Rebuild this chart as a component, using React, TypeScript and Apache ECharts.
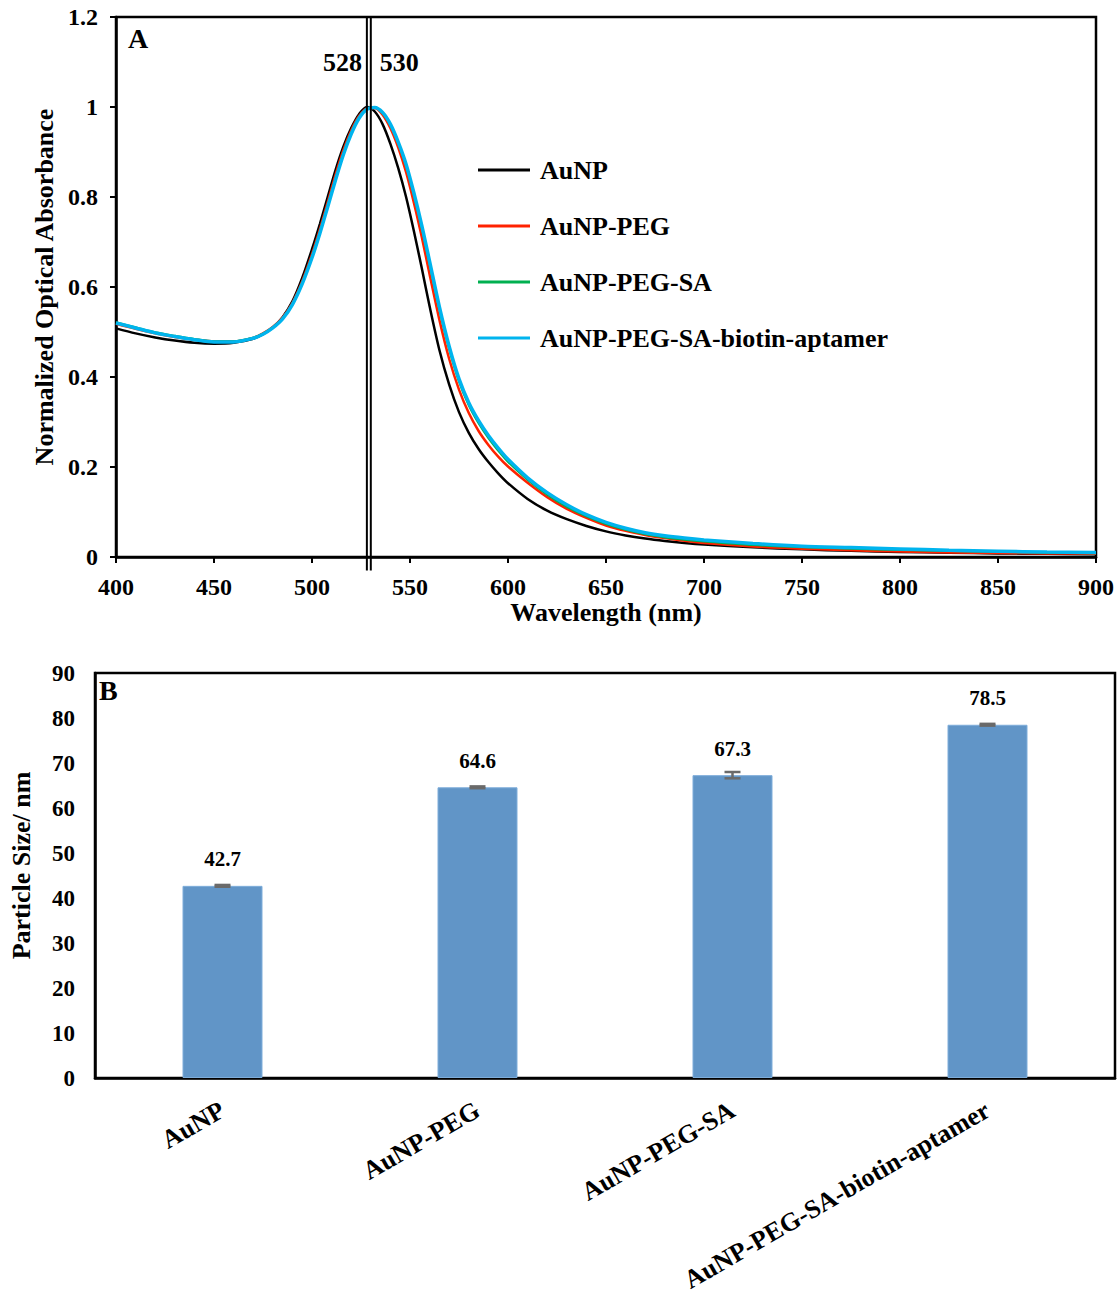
import React, { useEffect, useRef } from "react";
import * as echarts from "echarts";

const FONT = '"Liberation Serif", "Times New Roman", serif';

// Panel A: normalized UV-Vis spectra (wavelength in nm)
const wavelengths = [
  400, 410, 420, 430, 440, 450, 460, 470, 475, 480, 485, 490, 495, 500,
  504, 508, 512, 516, 520, 524, 528, 532, 536, 540, 544, 548, 552, 556, 560,
  565, 570, 575, 580, 585, 590, 595, 600,
  610, 620, 630, 640, 650, 660, 670, 680, 690, 700,
  725, 750, 775, 800, 825, 850, 875, 900,
];
const absAuNP = [
  0.508, 0.497, 0.488, 0.481, 0.476, 0.474, 0.476, 0.485, 0.495, 0.51, 0.533, 0.568, 0.62, 0.684,
  0.74, 0.8, 0.86, 0.912, 0.953, 0.984, 1.0, 0.99, 0.962, 0.918, 0.864, 0.8, 0.724, 0.642, 0.557,
  0.46, 0.383, 0.322, 0.276, 0.24, 0.211, 0.186, 0.164,
  0.129, 0.103, 0.084, 0.069, 0.057, 0.048, 0.041, 0.0355, 0.031, 0.0275,
  0.0215, 0.017, 0.0137, 0.0113, 0.0095, 0.008, 0.007, 0.006,
];
const absPEG = [
  0.518, 0.507, 0.497, 0.489, 0.483, 0.479, 0.479, 0.487, 0.497, 0.511, 0.532, 0.565, 0.613, 0.673,
  0.728, 0.788, 0.849, 0.904, 0.948, 0.98, 0.997, 0.998, 0.983, 0.953, 0.91, 0.855, 0.787, 0.711, 0.628,
  0.527, 0.44, 0.372, 0.32, 0.28, 0.249, 0.223, 0.201,
  0.165, 0.133, 0.107, 0.087, 0.07, 0.058, 0.049, 0.042, 0.036, 0.031,
  0.0235, 0.0185, 0.015, 0.012, 0.01, 0.009, 0.008, 0.007,
];
const absPEGSA = [
  0.521, 0.51, 0.499, 0.491, 0.484, 0.479, 0.479, 0.487, 0.496, 0.51, 0.53, 0.562, 0.609, 0.667,
  0.721, 0.78, 0.84, 0.896, 0.942, 0.976, 0.996, 0.999, 0.987, 0.96, 0.92, 0.87, 0.805, 0.733, 0.652,
  0.551, 0.463, 0.391, 0.338, 0.298, 0.265, 0.237, 0.212,
  0.172, 0.139, 0.112, 0.091, 0.074, 0.061, 0.051, 0.044, 0.039, 0.035,
  0.027, 0.022, 0.019, 0.016, 0.014, 0.012, 0.01, 0.009,
];
const absAptamer = [
  0.52, 0.509, 0.498, 0.49, 0.483, 0.478, 0.478, 0.486, 0.495, 0.509, 0.529, 0.561, 0.607, 0.665,
  0.719, 0.778, 0.838, 0.894, 0.94, 0.975, 0.995, 0.999, 0.988, 0.962, 0.922, 0.873, 0.809, 0.737, 0.657,
  0.556, 0.468, 0.396, 0.343, 0.303, 0.27, 0.242, 0.217,
  0.176, 0.143, 0.116, 0.094, 0.077, 0.064, 0.054, 0.047, 0.042, 0.038,
  0.03, 0.024, 0.021, 0.018, 0.015, 0.013, 0.011, 0.01,
];
const spectraNames = ["AuNP", "AuNP-PEG", "AuNP-PEG-SA", "AuNP-PEG-SA-biotin-aptamer"];
const spectraColors = ["#000000", "#FF2200", "#00B050", "#00B4EE"];
const spectraWidths = [2.5, 2.5, 2.5, 3.5];
const peakWavelengths = [528, 530];
const peakLabelLevel = 1.1;

// Panel B: hydrodynamic particle size
const sampleNames = ["AuNP", "AuNP-PEG", "AuNP-PEG-SA", "AuNP-PEG-SA-biotin-aptamer"];
const particleSizes = [42.7, 64.6, 67.3, 78.5];
const sizeErrors = [0.2, 0.2, 0.7, 0.2];

const bold = (size: number) => ({
  fontFamily: FONT,
  fontWeight: "bold" as const,
  fontSize: size,
  color: "#000",
});

export default function App() {
  const ref = useRef<HTMLDivElement>(null);

  useEffect(() => {
    if (!ref.current) return;
    const chart = echarts.init(ref.current, null, { renderer: "svg" });

    const spectra = [absAuNP, absPEG, absPEGSA, absAptamer];

    const lineSeries = spectra.map((vals, k) => ({
      name: spectraNames[k],
      type: "line",
      xAxisIndex: 0,
      yAxisIndex: 0,
      data: wavelengths.map((w, i) => [w, vals[i]]),
      showSymbol: false,
      symbol: "none",
      smooth: 0.3,
      color: spectraColors[k],
      lineStyle: { color: spectraColors[k], width: spectraWidths[k] },
      z: 3 + k,
    }));

    const option: any = {
      animation: false,
      backgroundColor: "#fff",
      grid: [
        { left: 116, top: 17, width: 981, height: 540, show: true, borderColor: "#000", borderWidth: 2.5 },
        { left: 94, top: 673, width: 1021, height: 405, show: true, borderColor: "#000", borderWidth: 2.5 },
      ],
      legend: {
        data: spectraNames,
        orient: "vertical",
        left: 478,
        top: 157,
        padding: 0,
        itemWidth: 52,
        itemHeight: 3,
        itemGap: 30,
        icon: "rect",
        textStyle: { ...bold(26), lineHeight: 26, padding: [0, 0, 0, 5] },
      },
      xAxis: [
        {
          type: "value",
          gridIndex: 0,
          min: 400,
          max: 900,
          interval: 50,
          axisLine: { lineStyle: { color: "#000", width: 2.5 } },
          axisTick: { show: true, length: 6, lineStyle: { color: "#000", width: 2 } },
          axisLabel: { ...bold(24), margin: 18 },
          splitLine: { show: false },
          name: "Wavelength (nm)",
          nameLocation: "middle",
          nameGap: 42,
          nameTextStyle: bold(26),
        },
        {
          type: "category",
          gridIndex: 1,
          data: sampleNames,
          axisLine: { lineStyle: { color: "#000", width: 2.5 } },
          axisTick: { show: false },
          axisLabel: { ...bold(26), rotate: 30, interval: 0, margin: 30 },
        },
      ],
      yAxis: [
        {
          type: "value",
          gridIndex: 0,
          min: 0,
          max: 1.2,
          interval: 0.2,
          axisLine: { show: true, lineStyle: { color: "#000", width: 2.5 } },
          axisTick: { show: true, length: 6, lineStyle: { color: "#000", width: 2 } },
          axisLabel: { ...bold(24), margin: 18 },
          splitLine: { show: false },
          name: "Normalized Optical Absorbance",
          nameLocation: "middle",
          nameRotate: 90,
          nameGap: 58,
          nameTextStyle: bold(26),
        },
        {
          type: "value",
          gridIndex: 1,
          min: 0,
          max: 90,
          interval: 10,
          axisLine: { show: true, lineStyle: { color: "#000", width: 2.5 } },
          axisTick: { show: false },
          axisLabel: { ...bold(23), margin: 20 },
          splitLine: { show: false },
          name: "Particle Size/ nm",
          nameLocation: "middle",
          nameRotate: 90,
          nameGap: 61,
          nameTextStyle: { ...bold(26), padding: [0, 0, 0, 20] },
        },
      ],
      series: [
        ...lineSeries,
        {
          // peak marker lines with their wavelength labels
          name: "peaks",
          type: "custom",
          xAxisIndex: 0,
          yAxisIndex: 0,
          clip: false,
          silent: true,
          data: peakWavelengths.map((w) => [w]),
          renderItem: (params: any, api: any) => {
            const w = api.value(0);
            const top = api.coord([w, 1.2]);
            const bottom = api.coord([w, -0.03]);
            const lab = api.coord([w, peakLabelLevel]);
            const left = params.dataIndex === 0;
            return {
              type: "group",
              children: [
                {
                  type: "line",
                  shape: { x1: top[0], y1: top[1], x2: bottom[0], y2: bottom[1] },
                  style: { stroke: "#000", lineWidth: 2 },
                },
                {
                  type: "text",
                  x: left ? lab[0] - 5 : lab[0] + 9,
                  y: lab[1],
                  style: {
                    text: String(w),
                    font: `bold 26px ${FONT}`,
                    fill: "#000",
                    align: left ? "right" : "left",
                    verticalAlign: "middle",
                  },
                },
              ],
            };
          },
          z: 10,
        },
        {
          name: "Particle size",
          type: "bar",
          xAxisIndex: 1,
          yAxisIndex: 1,
          data: particleSizes,
          barWidth: 80,
          itemStyle: { color: "#6195C7", borderColor: "#7EADDA", borderWidth: 1 },
          label: {
            show: true,
            position: "top",
            distance: 16,
            ...bold(21),
            formatter: (p: any) => p.value.toFixed(1),
          },
        },
        {
          name: "Size error",
          type: "custom",
          xAxisIndex: 1,
          yAxisIndex: 1,
          data: particleSizes.map((v, i) => [i, v - sizeErrors[i], v + sizeErrors[i]]),
          renderItem: (_params: any, api: any) => {
            const lo = api.coord([api.value(0), api.value(1)]);
            const hi = api.coord([api.value(0), api.value(2)]);
            const hw = 8;
            const style = { stroke: "#6A6A6A", lineWidth: 2.5, fill: "none" };
            return {
              type: "group",
              children: [
                { type: "line", shape: { x1: lo[0], y1: lo[1], x2: hi[0], y2: hi[1] }, style },
                { type: "line", shape: { x1: lo[0] - hw, y1: lo[1], x2: lo[0] + hw, y2: lo[1] }, style },
                { type: "line", shape: { x1: hi[0] - hw, y1: hi[1], x2: hi[0] + hw, y2: hi[1] }, style },
              ],
            };
          },
          z: 5,
        },
      ],
      graphic: [
        { type: "text", left: 128, top: 24, style: { text: "A", font: `bold 28px ${FONT}`, fill: "#000" } },
        { type: "text", left: 99, top: 676, style: { text: "B", font: `bold 28px ${FONT}`, fill: "#000" } },
      ],
    };

    chart.setOption(option);
    return () => chart.dispose();
  }, []);

  return (
    <div
      ref={ref}
      style={{ position: "absolute", left: 0, top: 0, width: 1117, height: 1296, background: "#fff" }}
    />
  );
}
